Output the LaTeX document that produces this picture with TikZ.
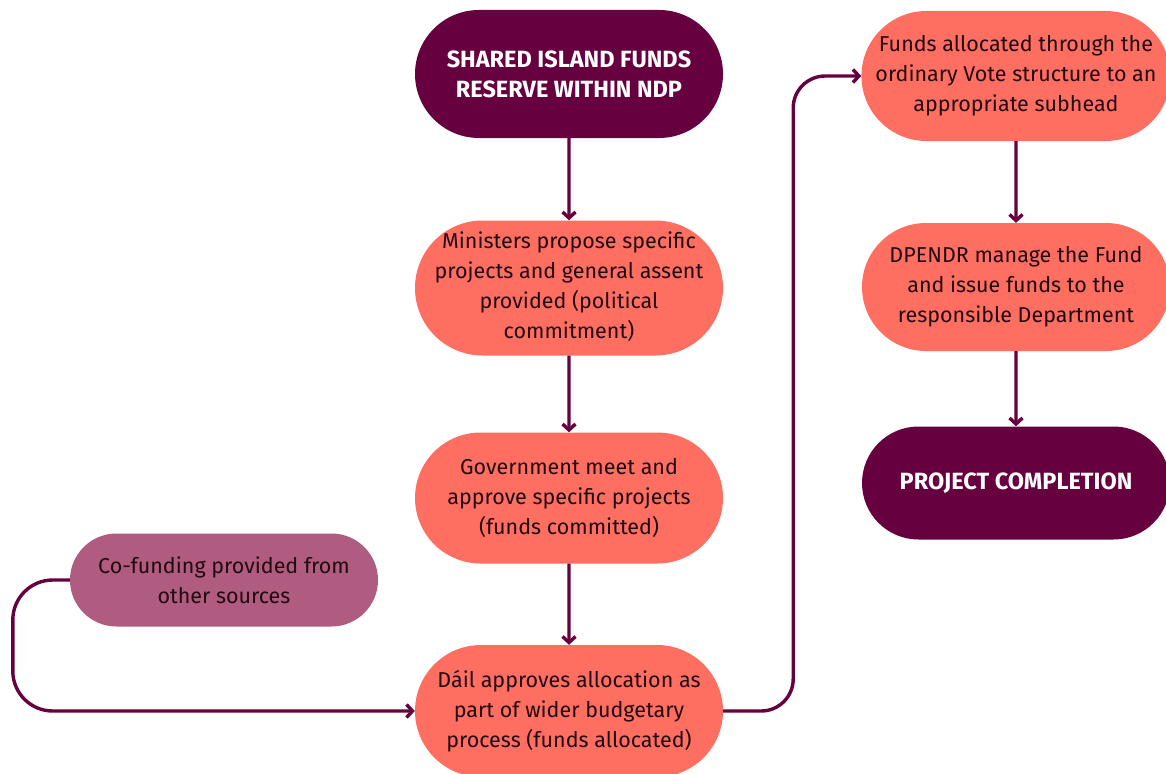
\documentclass[tikz,border=0pt]{standalone}
\usepackage{fontspec}
\setmainfont{Fira Sans}
\usetikzlibrary{arrows.meta}
\usetikzlibrary{shapes.misc}
\definecolor{plum}{HTML}{66003F}
\definecolor{salmon}{HTML}{FF6F61}
\definecolor{mauve}{HTML}{B05C80}
\definecolor{ink}{HTML}{220810}
\begin{document}
\begin{tikzpicture}[x=1pt, y=-1pt,
		box/.style={rounded rectangle, minimum width=308pt, align=center, inner sep=0pt, font=\fontsize{21.5}{30}\selectfont},
		fundbox/.style={box, fill=salmon, text=ink},
		keybox/.style={box, fill=plum, text=white, font=\bfseries\fontsize{23.5}{30}\selectfont},
		sidebox/.style={box, fill=mauve, text=ink},
		flow/.style={draw=plum, line width=3.4pt, -{Straight Barb[length=6pt,width=13pt]}}]
		\useasboundingbox (0, 0) rectangle (1166, 773);
		% draw middle column
		\node [keybox, minimum height=128pt] (reserve) at (569, 74) {SHARED ISLAND FUNDS\\RESERVE WITHIN NDP};
		\node [fundbox, minimum height=135pt] (ministers) at (569, 288) {\makebox[250pt]{\raisebox{0pt}[45pt][35pt]{\begin{tabular}{@{}c@{}}Ministers propose specific\\projects and general assent\\provided (political\\commitment)\end{tabular}}}};
		\node [fundbox, minimum height=131pt] (govt) at (569, 498) {Government meet and\\approve specific projects\\(funds committed)};
		\node [fundbox, minimum height=132pt] (dail) at (569, 711) {Dáil approves allocation as\\part of wider budgetary\\process (funds allocated)};
		% draw side source
		\node [sidebox, minimum height=93pt] (cofund) at (224, 580) {Co-funding provided from\\other sources};
		% draw right column
		\node [fundbox, minimum height=130pt] (vote) at (1016, 76) {Funds allocated through the\\ordinary Vote structure to an\\appropriate subhead};
		\node [fundbox, minimum height=128pt] (dpendr) at (1016, 287) {DPENDR manage the Fund\\and issue funds to the\\responsible Department};
		\node [keybox, minimum height=113pt] (complete) at (1016, 483) {PROJECT COMPLETION};
		% draw flow arrows
		\draw [flow] (reserve) -- (ministers);
		\draw [flow] (ministers) -- (govt);
		\draw [flow] (govt) -- (dail);
		\draw [flow, rounded corners=40pt] (cofund.west) -- ++(-57, 0) |- (dail.west);
		\draw [flow, rounded corners=32pt] (dail.east) -- ++(70, 0) |- (vote.west);
		\draw [flow] (vote) -- (dpendr);
		\draw [flow] (dpendr) -- (complete);
	\end{tikzpicture}
\end{document}
